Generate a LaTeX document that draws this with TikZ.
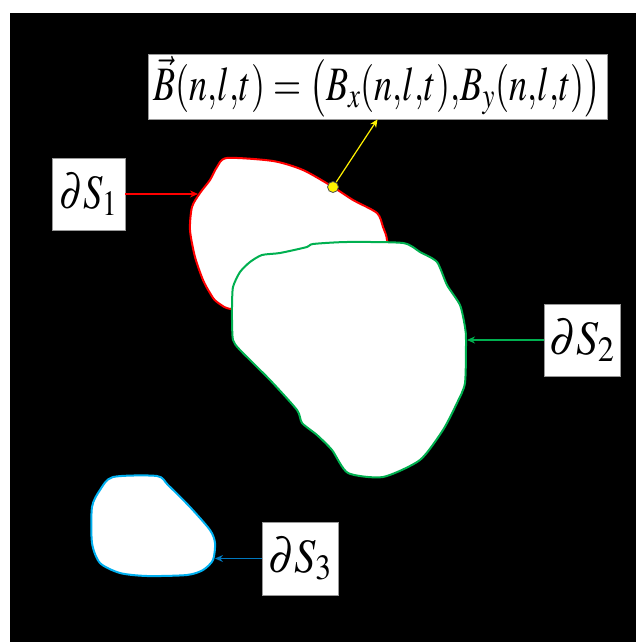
\documentclass[tikz,border=0pt]{standalone}
\usepackage{mathptmx}
\usepackage{graphicx}
\usepackage{tikz}
\usetikzlibrary{arrows.meta,positioning}

\definecolor{bdred}{RGB}{255,0,0}
\definecolor{bdgreen}{RGB}{0,176,80}
\definecolor{bdblue}{RGB}{0,176,240}
\definecolor{bdarrowblue}{RGB}{0,120,190}

% label text, squeezed sideways like the original
\newcommand{\bdlab}[2]{\resizebox{#1}{\height}{#2}}

\begin{document}
\begin{tikzpicture}[
  x=0.5pt, y=-0.5pt,
  lab/.style={fill=white, draw=black!40, line width=0.3pt, inner sep=0pt,
              font=\fontsize{24}{28}\selectfont, align=center},
  region/.style={fill=white, line width=1pt, line join=round},
  ar/.style={-{Stealth[length=4pt,width=3.5pt]}, line width=0.6pt}]

% background and frame
\useasboundingbox (0,0) rectangle (636,642);
\fill[white] (0,0) rectangle (636,642);
\fill[black] (10,13) rectangle (636,642);

% first region, partly hidden under the second one
\draw[region, draw=bdred] plot[smooth cycle, tension=0.45] coordinates {
  (227,158) (273,161) (303,170) (333,187) (353,200) (377,213) (383,227)
  (387,240) (385,262) (300,292) (236,309) (217,302) (210,293) (203,280)
  (195,257) (190,230) (192,207) (200,193) (210,180) (217,167)};

% second region
\draw[region, draw=bdgreen] plot[smooth cycle, tension=0.4] coordinates {
  (232,307) (233,287) (240,272) (250,262) (262,255) (280,253) (307,247)
  (313,244) (347,242) (403,243) (420,252) (437,262) (447,285) (460,305)
  (465,327) (466,340) (465,383) (457,403) (443,430) (420,460) (383,477)
  (348,473) (332,450) (317,435) (302,423) (297,410) (270,380) (240,350)
  (233,340) (232,320)};

% third region
\draw[region, draw=bdblue] plot[smooth cycle, tension=0.45] coordinates {
  (113,477) (157,476) (168,485) (190,507) (210,530) (215,543) (213,560)
  (203,570) (187,575) (147,576) (120,573) (100,563) (92,543) (92,507)
  (100,490)};

% boundary labels
\node[lab, minimum width=36.5pt, minimum height=36pt] (s1) at (88.5,194)
     {\bdlab{29pt}{$\partial S_1$}};
\node[lab, minimum width=38pt, minimum height=36pt] (s2) at (582,340)
     {\bdlab{33pt}{$\partial S_2$}};
\node[lab, minimum width=38pt, minimum height=36.5pt] (s3) at (300,558.5)
     {\bdlab{32pt}{$\partial S_3$}};
\node[lab, minimum width=229.5pt, minimum height=32.5pt] (eq) at (377.5,86.5)
     {\bdlab{224pt}{$\vec{B}(n{,}l{,}t)=\bigl(B_x(n{,}l{,}t){,}B_y(n{,}l{,}t)\bigr)$}};

% points on the boundaries
\coordinate (p1) at (198,194);
\coordinate (p2) at (467,340);
\coordinate (p3) at (215,558.5);
\node[circle, fill=yellow, draw=black!70, line width=0.4pt,
      minimum size=5.5pt, inner sep=0pt] (dot) at (333,187) {};

% connectors
\draw[ar, bdred] (s1.east) -- (p1);
\draw[ar, bdgreen] (s2.west) -- (p2);
\draw[ar, bdarrowblue] (s3.west) -- (p3);
\draw[ar, yellow] (dot) -- (eq.south);
\end{tikzpicture}
\end{document}
